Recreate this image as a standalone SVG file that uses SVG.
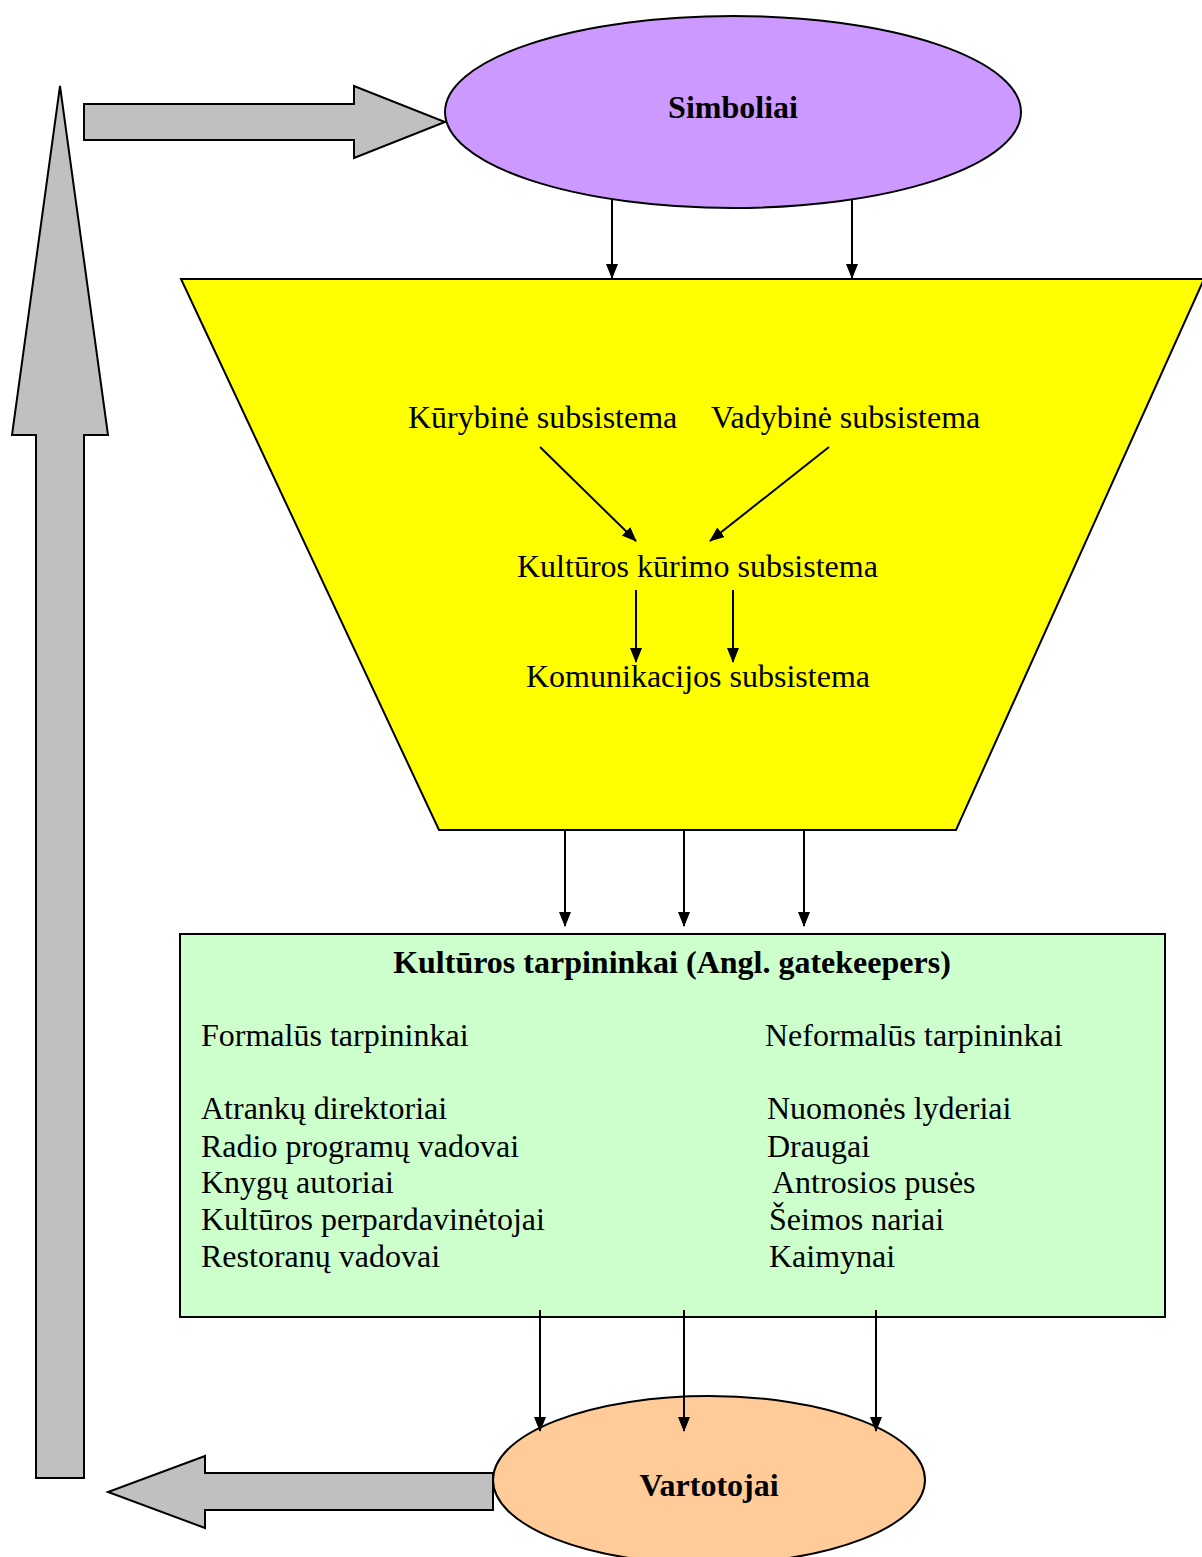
<svg xmlns="http://www.w3.org/2000/svg" width="1202" height="1557" viewBox="0 0 1202 1557">
<style>
.t{font-family:"Liberation Serif","Times New Roman",serif;font-size:32px;fill:#000}
.b{font-weight:bold}
.sh{stroke:#000;stroke-width:2;fill:#c0c0c0}
.c line{stroke:#000;stroke-width:2}
</style>
<defs>
<marker id="ah" markerWidth="16" markerHeight="14" refX="14" refY="6" orient="auto" markerUnits="userSpaceOnUse">
<path d="M0,0 L15,6 L0,12 Z" fill="#000"/>
</marker>
</defs>
<rect width="1202" height="1557" fill="#fff"/>
<g id="arrow-up"><polygon class="sh" points="60,86 108,435 84,435 84,1478 36,1478 36,435 12,435"/></g>
<g id="arrow-right"><polygon class="sh" points="84,104 354,104 354,86 445,122 354,158 354,140 84,140"/></g>
<g id="arrow-left"><polygon class="sh" points="493,1473 205,1473 205,1456 108,1492 205,1528 205,1510 493,1510"/></g>
<g id="trapezoid">
<polygon points="181,279 1204,279 956,830 439,830" fill="#ffff00" stroke="#000" stroke-width="2"/>
<text class="t" x="408" y="428">Kūrybinė subsistema</text>
<text class="t" x="711" y="428">Vadybinė subsistema</text>
<text class="t" x="517" y="577">Kultūros kūrimo subsistema</text>
<text class="t" x="526" y="687">Komunikacijos subsistema</text>
</g>
<g id="simboliai">
<ellipse cx="733" cy="112" rx="288" ry="96" fill="#cc99ff" stroke="#000" stroke-width="2"/>
<text class="t b" x="733" y="118" text-anchor="middle" font-size="31">Simboliai</text>
</g>
<g id="tarpininkai">
<rect x="180" y="934" width="985" height="383" fill="#ccffcc" stroke="#000" stroke-width="2"/>
<text class="t b" x="672" y="973" text-anchor="middle">Kultūros tarpininkai (Angl. gatekeepers)</text>
<text class="t" x="201" y="1046">Formalūs tarpininkai</text>
<text class="t" x="201" y="1119">Atrankų direktoriai</text>
<text class="t" x="201" y="1157">Radio programų vadovai</text>
<text class="t" x="201" y="1193">Knygų autoriai</text>
<text class="t" x="201" y="1230">Kultūros perpardavinėtojai</text>
<text class="t" x="201" y="1267">Restoranų vadovai</text>
<text class="t" x="765" y="1046">Neformalūs tarpininkai</text>
<text class="t" x="767" y="1119">Nuomonės lyderiai</text>
<text class="t" x="767" y="1157">Draugai</text>
<text class="t" x="772" y="1193">Antrosios pusės</text>
<text class="t" x="769" y="1230">Šeimos nariai</text>
<text class="t" x="769" y="1267">Kaimynai</text>
</g>
<g id="vartotojai">
<ellipse cx="709" cy="1480" rx="216" ry="84" fill="#ffcc99" stroke="#000" stroke-width="2"/>
<text class="t b" x="709" y="1496" text-anchor="middle">Vartotojai</text>
</g>
<g class="c" id="connectors">
<line x1="612" y1="200" x2="612" y2="278" marker-end="url(#ah)"/>
<line x1="852" y1="200" x2="852" y2="278" marker-end="url(#ah)"/>
<line x1="540" y1="447" x2="636" y2="541" marker-end="url(#ah)"/>
<line x1="829" y1="447" x2="710" y2="541" marker-end="url(#ah)"/>
<line x1="636" y1="590" x2="636" y2="662" marker-end="url(#ah)"/>
<line x1="733" y1="590" x2="733" y2="662" marker-end="url(#ah)"/>
<line x1="565" y1="830" x2="565" y2="926" marker-end="url(#ah)"/>
<line x1="684" y1="830" x2="684" y2="926" marker-end="url(#ah)"/>
<line x1="804" y1="830" x2="804" y2="926" marker-end="url(#ah)"/>
<line x1="540" y1="1310" x2="540" y2="1431" marker-end="url(#ah)"/>
<line x1="684" y1="1310" x2="684" y2="1431" marker-end="url(#ah)"/>
<line x1="876" y1="1310" x2="876" y2="1431" marker-end="url(#ah)"/>
</g>
</svg>
